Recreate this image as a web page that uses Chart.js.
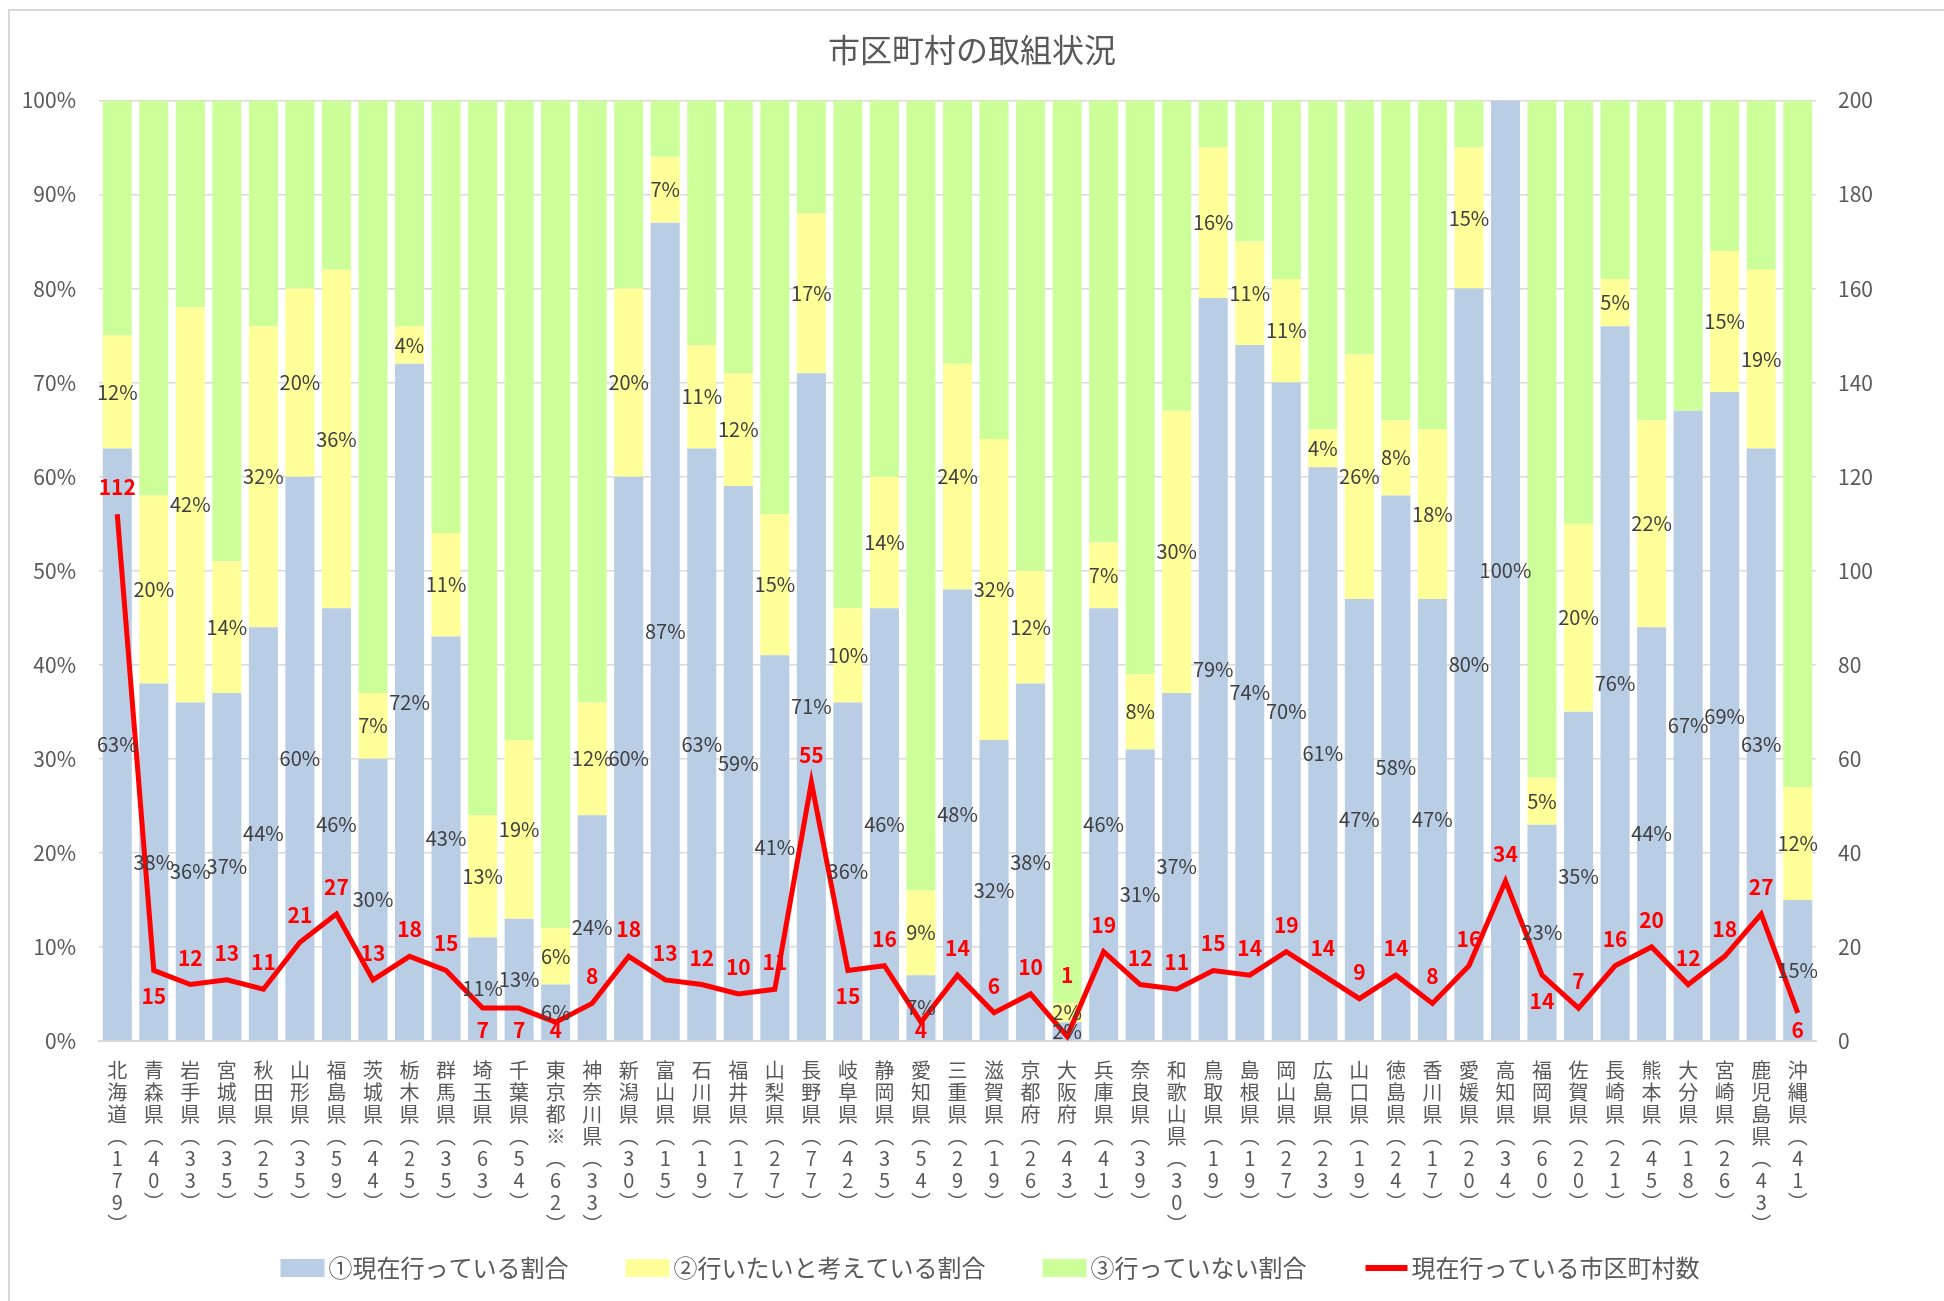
<!DOCTYPE html>
<html lang="ja">
<head>
<meta charset="utf-8">
<title>市区町村の取組状況</title>
<script src="https://cdn.jsdelivr.net/npm/chart.js@4.4.1/dist/chart.umd.min.js"></script>
<style>
  html, body { margin: 0; padding: 0; background: #fff; }
  #wrap { position: relative; width: 1944px; height: 1301px; overflow: hidden; }
  #frame { position: absolute; left: 8px; top: 9px; width: 1960px; height: 1320px;
           border-left: 2px solid #d9d9d9; border-top: 2px solid #d9d9d9; }
  canvas { position: absolute; left: 0; top: 0; }
</style>
</head>
<body>
<div id="wrap">
  <div id="frame"></div>
  <canvas id="chart" width="1944" height="1301"></canvas>
</div>
<script>
// prefecture names and number of municipalities in each
const prefectures = ['北海道','青森県','岩手県','宮城県','秋田県','山形県','福島県','茨城県','栃木県','群馬県',
  '埼玉県','千葉県','東京都※','神奈川県','新潟県','富山県','石川県','福井県','山梨県','長野県',
  '岐阜県','静岡県','愛知県','三重県','滋賀県','京都府','大阪府','兵庫県','奈良県','和歌山県',
  '鳥取県','島根県','岡山県','広島県','山口県','徳島県','香川県','愛媛県','高知県','福岡県',
  '佐賀県','長崎県','熊本県','大分県','宮崎県','鹿児島県','沖縄県'];
const totals = [179,40,33,35,25,35,59,44,25,35,63,54,62,33,30,15,19,17,27,77,
  42,35,54,29,19,26,43,41,39,30,19,19,27,23,19,24,17,20,34,60,20,21,45,18,26,43,41];

// ① 現在行っている割合 (%)
const doingPct = [63,38,36,37,44,60,46,30,72,43,11,13,6,24,60,87,63,59,41,71,
  36,46,7,48,32,38,2,46,31,37,79,74,70,61,47,58,47,80,100,23,35,76,44,67,69,63,15];
// ② 行いたいと考えている割合 (%)
const wantPct = [12,20,42,14,32,20,36,7,4,11,13,19,6,12,20,7,11,12,15,17,
  10,14,9,24,32,12,2,7,8,30,16,11,11,4,26,8,18,15,0,5,20,5,22,0,15,19,12];
// ③ 行っていない割合 (%)
const notPct = [25,42,22,49,24,20,18,63,24,46,76,68,88,64,20,6,26,29,44,12,
  54,40,84,28,36,50,96,47,61,33,5,15,19,35,27,34,35,5,0,72,45,19,34,33,16,18,73];
// 現在行っている市区町村数
const doingCount = [112,15,12,13,11,21,27,13,18,15,7,7,4,8,18,13,12,10,11,55,
  15,16,4,14,6,10,1,19,12,11,15,14,19,14,9,14,8,16,34,14,7,16,20,12,18,27,6];

const seriesNames = ['①現在行っている割合','②行いたいと考えている割合','③行っていない割合','現在行っている市区町村数'];

// label placement for the red count labels (index -> offset from point)
const countBelow = new Set([1,10,11,12,20,22,39,46]);
const countOffsetSpecial = { 26: -61 };

const FONT = '"Noto Sans CJK JP", "Noto Sans", sans-serif';
const COLORS = ['#B9CDE5', '#FFFF99', '#CCFF99', '#FF0000'];

// vertical labels: one character per line, with vertical brackets
const xLabels = prefectures.map((p, i) => [...p, '︵', ...String(totals[i]), '︶']);

const valueLabels = {
  id: 'valueLabels',
  afterDatasetsDraw(chart) {
    const ctx = chart.ctx;
    ctx.save();
    ctx.textAlign = 'center';
    ctx.textBaseline = 'middle';
    ctx.font = '20px ' + FONT;
    ctx.fillStyle = '#404040';
    [1, 2].forEach(di => {
      const meta = chart.getDatasetMeta(di);
      const vals = chart.data.datasets[di].data;
      meta.data.forEach((bar, i) => {
        if (!vals[i]) return;
        ctx.fillText(vals[i] + '%', bar.x, (bar.y + bar.base) / 2);
      });
    });
    // count labels stay inside the plot area, like the spreadsheet does
    const lm = chart.getDatasetMeta(0);
    const maxY = chart.chartArea.bottom - 11;
    ctx.font = 'bold 21px ' + FONT;
    ctx.fillStyle = '#FF0000';
    lm.data.forEach((pt, i) => {
      let off = countBelow.has(i) ? 26 : -27;
      if (countOffsetSpecial[i] !== undefined) off = countOffsetSpecial[i];
      ctx.fillText(doingCount[i], pt.x, Math.min(pt.y + off, maxY));
    });
    ctx.restore();
  }
};

const bottomLegend = {
  id: 'bottomLegend',
  afterDraw(chart) {
    const ctx = chart.ctx;
    ctx.save();
    ctx.font = '24px ' + FONT;
    ctx.textBaseline = 'middle';
    const boxW = 44, boxH = 18, gapText = 4, gapItem = 57, cy = 1268;
    const widths = seriesNames.map(t => boxW + gapText + ctx.measureText(t).width);
    const total = widths.reduce((a, b) => a + b, 0) + gapItem * (widths.length - 1);
    let x = 990 - total / 2;
    seriesNames.forEach((t, i) => {
      if (i < 3) {
        ctx.fillStyle = COLORS[i];
        ctx.fillRect(x, cy - boxH / 2, boxW, boxH);
      } else {
        ctx.strokeStyle = COLORS[3];
        ctx.lineWidth = 6;
        ctx.beginPath();
        ctx.moveTo(x + 2, cy);
        ctx.lineTo(x + boxW, cy);
        ctx.stroke();
      }
      ctx.fillStyle = '#595959';
      ctx.textAlign = 'left';
      ctx.fillText(t, x + boxW + gapText, cy);
      x += widths[i] + gapItem;
    });
    ctx.restore();
  }
};

new Chart(document.getElementById('chart'), {
  type: 'bar',
  data: {
    labels: xLabels,
    datasets: [
      {
        type: 'line',
        label: seriesNames[3],
        data: doingCount,
        yAxisID: 'y1',
        borderColor: COLORS[3],
        borderWidth: 5,
        pointRadius: 0,
        tension: 0,
        order: 0
      },
      { label: seriesNames[0], data: doingPct, backgroundColor: COLORS[0], yAxisID: 'y', order: 1 },
      { label: seriesNames[1], data: wantPct, backgroundColor: COLORS[1], yAxisID: 'y', order: 1 },
      { label: seriesNames[2], data: notPct, backgroundColor: COLORS[2], yAxisID: 'y', order: 1 }
    ]
  },
  options: {
    responsive: false,
    animation: false,
    devicePixelRatio: 1,
    datasets: { bar: { barPercentage: 0.795, categoryPercentage: 1 } },
    layout: { padding: { left: 0, right: 0, top: 0, bottom: 60 } },
    plugins: {
      title: {
        display: true,
        text: '市区町村の取組状況',
        color: '#595959',
        font: { size: 32, family: FONT, weight: 'normal', lineHeight: 1.2 },
        padding: { top: 31, bottom: 31 }
      },
      legend: { display: false },
      tooltip: { enabled: false }
    },
    scales: {
      x: {
        stacked: true,
        grid: { display: false, drawTicks: false },
        border: { display: true, color: '#d9d9d9', width: 2 },
        ticks: {
          autoSkip: false, maxRotation: 0, minRotation: 0, padding: 18,
          color: '#595959', font: { size: 20, family: FONT, lineHeight: 1.1 }
        },
        afterFit(s) { s.height = 200; }
      },
      y: {
        stacked: true,
        position: 'left',
        min: 0, max: 100,
        ticks: { stepSize: 10, padding: 23, color: '#595959', font: { size: 21, family: FONT },
                 callback: v => v + '%' },
        grid: { color: '#d9d9d9', lineWidth: 1.5, drawTicks: false },
        border: { display: false },
        afterFit(s) { s.width = 99; }
      },
      y1: {
        position: 'right',
        min: 0, max: 200,
        ticks: { stepSize: 20, padding: 22, color: '#595959', font: { size: 21, family: FONT } },
        grid: { display: false, drawTicks: false },
        border: { display: false },
        afterFit(s) { s.width = 128; }
      }
    }
  },
  plugins: [valueLabels, bottomLegend]
});
</script>
</body>
</html>
